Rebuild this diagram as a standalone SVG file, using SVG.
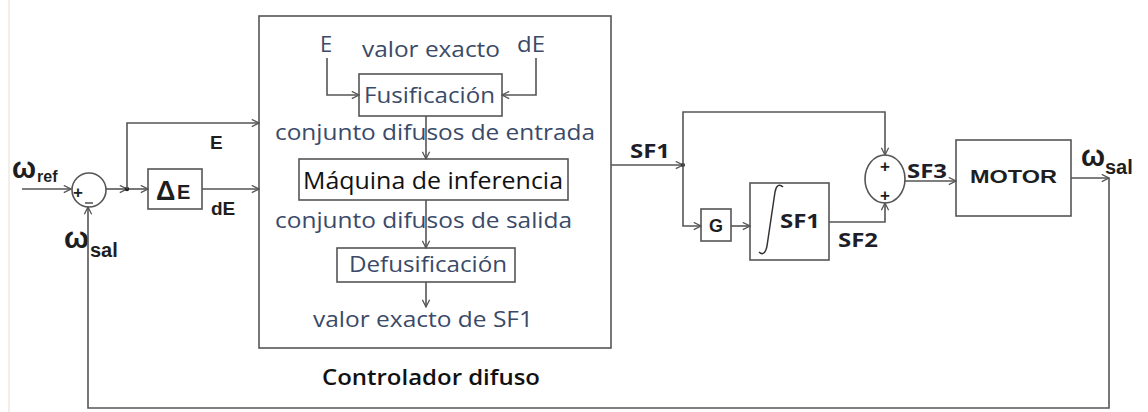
<svg xmlns="http://www.w3.org/2000/svg" width="1148" height="412" viewBox="0 0 1148 412">
<defs>
<marker id="arr" viewBox="0 0 10 10" refX="9" refY="5" markerWidth="9" markerHeight="9" markerUnits="userSpaceOnUse" orient="auto">
<path d="M1,1 L9,5 L1,9" fill="none" stroke="#555" stroke-width="1.4"/>
</marker>
</defs>
<style>
.ln{fill:none;stroke:#555;stroke-width:1.6}
.bx{fill:#fff;stroke:#555;stroke-width:1.6}
.in{font-family:"Open Sans","Noto Sans",sans-serif;fill:#3a4a68}
.bl{font-family:"Liberation Sans",Arial,sans-serif;font-weight:bold;fill:#1e1e1e}
.cb{font-family:"Open Sans","Noto Sans",sans-serif;font-weight:bold;fill:#1e1e2a}
</style>
<rect width="1148" height="412" fill="#fff"/>
<line x1="9" y1="0" x2="9" y2="412" stroke="#f3e9dc" stroke-width="1.5"/>

<g id="sum1">
<circle class="bx" cx="89" cy="190" r="17"/>
<text x="78" y="198" class="bl" font-size="17" font-weight="normal" fill="#444" text-anchor="middle">+</text>
<line x1="85" y1="203" x2="93" y2="203" stroke="#444" stroke-width="1.4"/>
</g>
<g id="label-wref">
<text x="12" y="178" class="bl" font-size="30" textLength="24" lengthAdjust="spacingAndGlyphs">ω</text>
<text x="37" y="182" class="bl" font-size="16" fill="#333">ref</text>
</g>
<g id="label-wsal-left">
<text x="64" y="248" class="bl" font-size="30" textLength="25" lengthAdjust="spacingAndGlyphs">ω</text>
<text x="90" y="257" class="bl" font-size="20">sal</text>
</g>

<g id="deltaE">
<rect class="bx" x="148" y="169" width="54" height="40"/>
<text x="156" y="200" class="bl" font-size="27">Δ</text>
<text x="177" y="199" class="bl" font-size="20">E</text>
</g>
<text x="210" y="149" class="bl" font-size="19">E</text>
<text x="211" y="215" class="bl" font-size="19">dE</text>

<g id="controlador">
<rect class="bx" x="259" y="16" width="352" height="332"/>
<text x="326" y="52" class="in" font-size="22" text-anchor="middle">E</text>
<text x="362" y="57" class="in" font-size="22" textLength="138" lengthAdjust="spacingAndGlyphs">valor exacto</text>
<text x="517" y="52" class="in" font-size="22" textLength="28" lengthAdjust="spacingAndGlyphs">dE</text>
<text x="275" y="140" class="in" font-size="22" textLength="320" lengthAdjust="spacingAndGlyphs">conjunto difusos de entrada</text>
<text x="275" y="228" class="in" font-size="22" textLength="297" lengthAdjust="spacingAndGlyphs">conjunto difusos de salida</text>
<text x="313" y="327" class="in" font-size="22" textLength="220" lengthAdjust="spacingAndGlyphs">valor exacto de SF1</text>
</g>
<g id="fusificacion">
<rect class="bx" x="359" y="74" width="143" height="42"/>
<text x="364" y="103" class="in" font-size="22" textLength="131" lengthAdjust="spacingAndGlyphs">Fusificación</text>
</g>
<g id="maquina">
<rect class="bx" x="299" y="159" width="269" height="41"/>
<text x="303" y="189" class="in" font-size="23" style="fill:#111" textLength="260" lengthAdjust="spacingAndGlyphs">Máquina de inferencia</text>
</g>
<g id="defusificacion">
<rect class="bx" x="337" y="248" width="178" height="34"/>
<text x="349" y="272" class="in" font-size="21" textLength="158" lengthAdjust="spacingAndGlyphs">Defusificación</text>
</g>
<text x="322" y="385" class="in" font-size="22" style="fill:#111;font-weight:600" textLength="218" lengthAdjust="spacingAndGlyphs">Controlador difuso</text>

<text x="630" y="158" class="cb" font-size="19" textLength="40" lengthAdjust="spacingAndGlyphs">SF1</text>

<g id="G">
<rect class="bx" x="701" y="209" width="30" height="32"/>
<text x="716" y="232" class="bl" font-size="18" text-anchor="middle">G</text>
</g>
<g id="integrador">
<rect class="bx" x="750" y="183" width="79" height="77"/>
<path d="M759,252 C763,256 766,252 767,246 L775,192 C776,186 779,183 783,187" fill="none" stroke="#333" stroke-width="1.5"/>
<text x="780" y="228" class="cb" font-size="19" textLength="40" lengthAdjust="spacingAndGlyphs">SF1</text>
</g>
<text x="838" y="247" class="cb" font-size="19" textLength="40" lengthAdjust="spacingAndGlyphs">SF2</text>

<g id="sum2">
<ellipse class="bx" cx="885" cy="179" rx="20" ry="24"/>
<text x="885" y="172" class="bl" font-size="17" text-anchor="middle">+</text>
<text x="885" y="201" class="bl" font-size="17" text-anchor="middle">+</text>
</g>
<text x="907" y="178" class="cb" font-size="19" textLength="40" lengthAdjust="spacingAndGlyphs">SF3</text>

<g id="motor">
<rect class="bx" x="956" y="140" width="115" height="76"/>
<text x="970" y="183" class="bl" font-size="19" textLength="87" lengthAdjust="spacingAndGlyphs">MOTOR</text>
</g>
<g id="label-wsal-right">
<text x="1081" y="166" class="bl" font-size="30" textLength="24" lengthAdjust="spacingAndGlyphs">ω</text>
<text x="1105" y="174" class="bl" font-size="20">sal</text>
</g>

<g id="connectors">
<line class="ln" x1="22" y1="189" x2="71" y2="189" marker-end="url(#arr)"/>
<line class="ln" x1="106" y1="189" x2="127" y2="189" marker-end="url(#arr)"/>
<line class="ln" x1="127" y1="189" x2="148" y2="189" marker-end="url(#arr)"/>
<circle cx="127" cy="189" r="2.2" fill="#222"/>
<polyline class="ln" points="127,189 127,123 259,123" marker-end="url(#arr)"/>
<line class="ln" x1="202" y1="189" x2="259" y2="189" marker-end="url(#arr)"/>
<polyline class="ln" points="327,58 327,95 359,95" marker-end="url(#arr)"/>
<polyline class="ln" points="536,58 536,95 502,95" marker-end="url(#arr)"/>
<line class="ln" x1="426" y1="116" x2="426" y2="159" marker-end="url(#arr)"/>
<line class="ln" x1="426" y1="200" x2="426" y2="248" marker-end="url(#arr)"/>
<line class="ln" x1="426" y1="282" x2="426" y2="307" marker-end="url(#arr)"/>
<line class="ln" x1="611" y1="165" x2="683" y2="165" marker-end="url(#arr)"/>
<circle cx="683" cy="165" r="2" fill="#222"/>
<polyline class="ln" points="683,165 683,112 885,112 885,155" marker-end="url(#arr)"/>
<polyline class="ln" points="683,165 683,226 701,226" marker-end="url(#arr)"/>
<line class="ln" x1="731" y1="226" x2="750" y2="226" marker-end="url(#arr)"/>
<polyline class="ln" points="829,222 885,222 885,203" marker-end="url(#arr)"/>
<line class="ln" x1="905" y1="181" x2="956" y2="181" marker-end="url(#arr)"/>
<line class="ln" x1="1071" y1="178" x2="1109" y2="178" marker-end="url(#arr)"/>
<polyline class="ln" points="1109,178 1109,408 88,408 88,207" marker-end="url(#arr)"/>
</g>
</svg>
